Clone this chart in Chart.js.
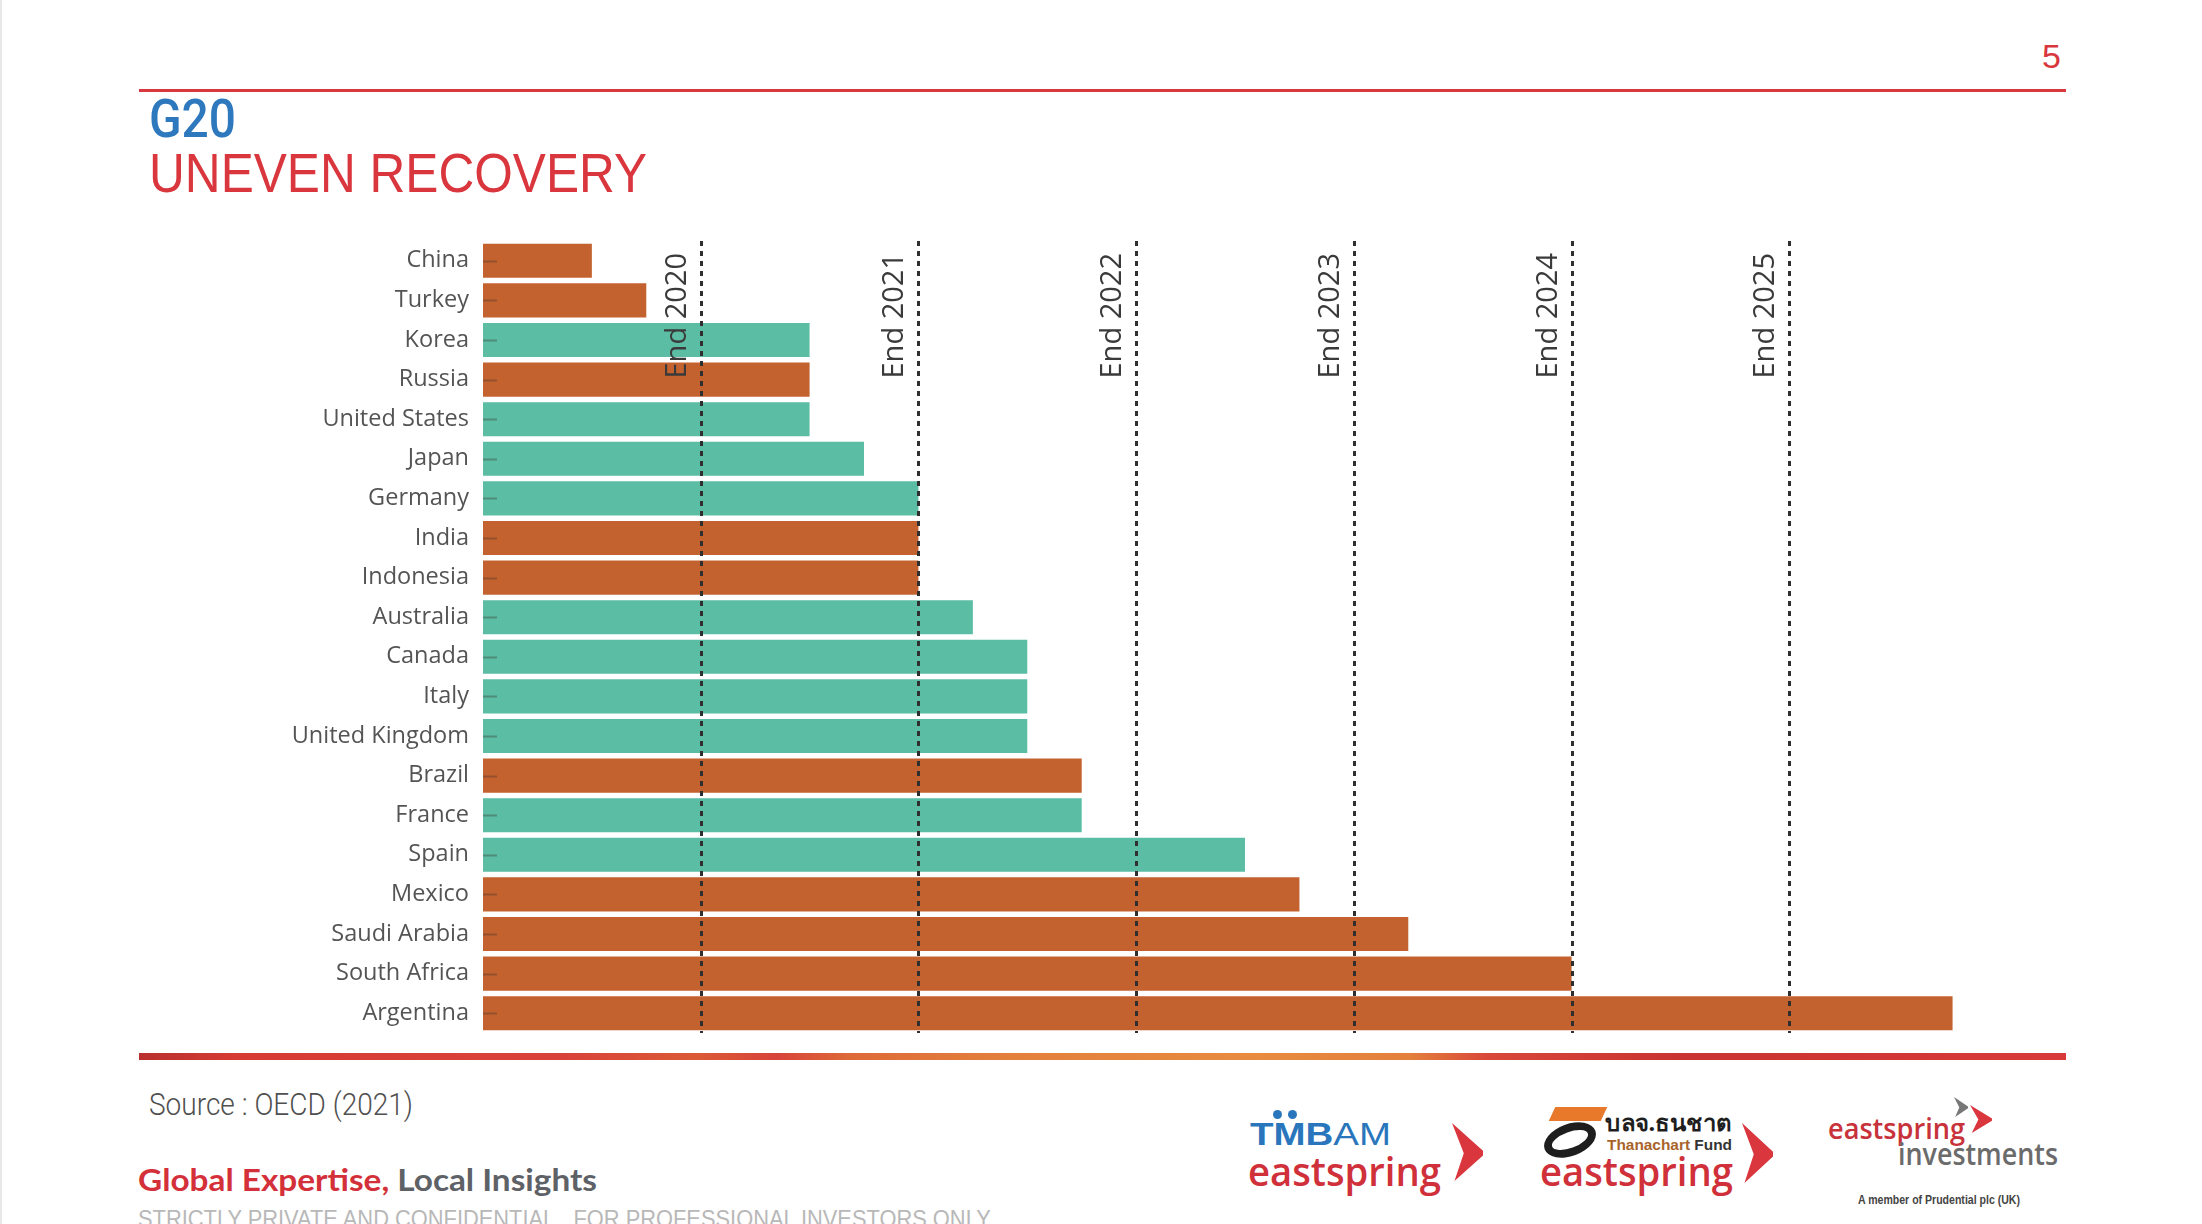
<!DOCTYPE html>
<html>
<head>
<meta charset="utf-8">
<script src="https://cdn.jsdelivr.net/npm/chart.js@4/dist/chart.umd.min.js"></script>
<style>
  html, body { margin: 0; padding: 0; }
  body { width: 2202px; height: 1224px; background: #fff; position: relative; overflow: hidden; font-family: 'Open Sans', sans-serif; }
  .abs { position: absolute; white-space: nowrap; line-height: 1; }
  .fit { transform-origin: 0 0; }
  .chev { position: absolute; clip-path: polygon(0 0, 100% 48%, 100% 56%, 8% 100%, 38% 52%); }
</style>
</head>
<body>
<div class="abs" style="left:0;top:0;width:2px;height:1224px;background:#e8e8e8"></div>

<!-- header -->
<div class="abs" style="left:2042px;top:37px;font:34px 'Liberation Sans';color:#d9363e">5</div>
<div class="abs" style="left:139px;top:89px;width:1927px;height:3px;background:#d9373f"></div>
<div class="abs fit" data-w="87" style="left:149px;top:88px;font:500 53px Roboto;color:#2e78be">G20</div>
<div class="abs fit" data-w="498" style="left:149px;top:140px;font:56px 'Liberation Sans';color:#d9363e">UNEVEN RECOVERY</div>

<!-- chart -->
<div style="position:absolute;left:0;top:231px;width:2020px;height:812px">
  <canvas id="chart" width="2020" height="812"></canvas>
</div>

<!-- footer -->
<div class="abs" style="left:139px;top:1053px;width:1927px;height:7px;background:linear-gradient(90deg,#b8302e 0%,#d63b33 5%,#d9423a 22%,#db5a36 29%,#d8433a 33%,#de6a38 37%,#e3803c 45%,#e88b40 58%,#e3803c 66%,#d9473a 70%,#c93331 80%,#d83a3a 100%)"></div>
<div class="abs fit" data-w="264" style="left:149px;top:1086px;font:300 31px Roboto;color:#505050">Source : OECD (2021)</div>
<div class="abs fit" data-w="459" style="left:138px;top:1161px;font:700 30px Lato;color:#5e6166"><span style="color:#d4303a">Global Expertise,</span> Local Insights</div>
<div class="abs fit" data-w="856" style="left:138px;top:1205px;font:24px 'Liberation Sans';color:#b8b8b8">STRICTLY PRIVATE AND CONFIDENTIAL.&nbsp; FOR PROFESSIONAL INVESTORS ONLY.</div>

<!-- logo 1 -->
<div class="abs" style="left:1273px;top:1110px;width:9px;height:9px;border-radius:50%;background:#2a76bc"></div>
<div class="abs" style="left:1288px;top:1110px;width:9px;height:9px;border-radius:50%;background:#2a76bc"></div>
<div class="abs fit" data-w="141" style="left:1250px;top:1117px;font:700 31px 'Liberation Sans';color:#2a76bc">TMB<span style="font-weight:400">AM</span></div>
<div class="abs fit" data-w="193" style="left:1248px;top:1143px;font:600 40px 'Open Sans';color:#d0303a">eastspring</div>
<div class="chev" style="left:1452px;top:1123px;width:31px;height:58px;background:#d9363e"></div>

<!-- logo 2 -->
<div class="abs" style="left:1552px;top:1107px;width:52px;height:14px;background:#e8782a;transform:skewX(-25deg)"></div>
<div class="abs" style="left:1543px;top:1124px;width:38px;height:16px;border:8px solid #1e1e1e;border-radius:50%;transform:rotate(-20deg)"></div>
<div class="abs fit" data-w="127" style="left:1605px;top:1105px;font:700 23px 'Noto Sans', 'DejaVu Sans', sans-serif;color:#1e1e1e">บลจ.ธนชาต</div>
<div class="abs fit" data-w="125" style="left:1607px;top:1136px;font:700 15px 'Liberation Sans';color:#333"><span style="color:#a8642a">Thanachart</span> Fund</div>
<div class="abs fit" data-w="193" style="left:1540px;top:1143px;font:600 40px 'Open Sans';color:#d0303a">eastspring</div>
<div class="chev" style="left:1742px;top:1123px;width:31px;height:60px;background:#d9363e"></div>

<!-- logo 3 -->
<div class="chev" style="left:1954px;top:1097px;width:14px;height:20px;background:#777"></div>
<div class="chev" style="left:1970px;top:1105px;width:22px;height:28px;background:#d9363e"></div>
<div class="abs fit" data-w="137" style="left:1828px;top:1109px;font:600 28px 'Open Sans';color:#c8323a">eastspring</div>
<div class="abs fit" data-w="160" style="left:1898px;top:1133px;font:600 30px 'Open Sans';color:#6b6b6b">investments</div>
<div class="abs fit" data-w="162" style="left:1858px;top:1192px;font:700 13px 'Liberation Sans';color:#444">A member of Prudential plc (UK)</div>

<script>
// data: quarters needed to get back to end-2019 level
const countries = ['China', 'Turkey', 'Korea', 'Russia', 'United States', 'Japan', 'Germany', 'India',
    'Indonesia', 'Australia', 'Canada', 'Italy', 'United Kingdom', 'Brazil', 'France', 'Spain',
    'Mexico', 'Saudi Arabia', 'South Africa', 'Argentina'];
const quarters = [2, 3, 6, 6, 6, 7, 8, 8, 8, 9, 10, 10, 10, 11, 11, 14, 15, 17, 20, 27];
const groups = ['em', 'em', 'adv', 'em', 'adv', 'adv', 'adv', 'em', 'em', 'adv', 'adv', 'adv', 'adv',
    'em', 'adv', 'adv', 'em', 'em', 'em', 'em'];
const markerLabels = ['End 2020', 'End 2021', 'End 2022', 'End 2023', 'End 2024', 'End 2025'];
const markerQuarters = [4, 8, 12, 16, 20, 24];

const groupColors = { em: '#c4622f', adv: '#5bbda4' };

// fit header/footer texts to their measured widths
document.querySelectorAll('.fit').forEach(el => {
    const w = el.getBoundingClientRect().width;
    const target = Number(el.dataset.w);
    if (w > 0) el.style.transform = `scaleX(${target / w})`;
});

const markers = {
    id: 'markers',
    afterDatasetsDraw(chart) {
        const { ctx, chartArea, scales: { x, y } } = chart;
        ctx.save();

        // little tick marks at the bar base
        ctx.strokeStyle = 'rgba(60,45,40,0.35)';
        ctx.lineWidth = 2;
        countries.forEach((c, i) => {
            const py = Math.round(y.getPixelForValue(i)) + 0.5;
            ctx.beginPath();
            ctx.moveTo(chartArea.left, py);
            ctx.lineTo(chartArea.left + 14, py);
            ctx.stroke();
        });

        // dotted year lines + rotated labels
        ctx.setLineDash([5, 5]);
        ctx.lineWidth = 3;
        ctx.strokeStyle = '#2f2f2f';
        ctx.fillStyle = '#3a3a3a';
        ctx.font = "29px 'Open Sans'";
        markerQuarters.forEach((q, i) => {
            const px = Math.round(x.getPixelForValue(q)) + 0.5;
            ctx.beginPath();
            ctx.moveTo(px, chartArea.top);
            ctx.lineTo(px, chartArea.bottom);
            ctx.stroke();

            ctx.save();
            ctx.translate(px - 16, chartArea.top + 12);
            ctx.rotate(-Math.PI / 2);
            ctx.textAlign = 'right';
            ctx.textBaseline = 'alphabetic';
            ctx.fillText(markerLabels[i], 0, 0);
            ctx.restore();
        });
        ctx.restore();
    }
};

Chart.defaults.font.family = "'Open Sans'";

new Chart(document.getElementById('chart').getContext('2d'), {
    type: 'bar',
    data: {
        labels: countries,
        datasets: [{
            data: quarters,
            backgroundColor: groups.map(g => groupColors[g]),
            borderWidth: 0,
            barPercentage: 0.86,
            categoryPercentage: 1
        }]
    },
    options: {
        indexAxis: 'y',
        responsive: false,
        animation: false,
        layout: { padding: { top: 10, bottom: 10, left: 0, right: 13 } },
        plugins: { legend: { display: false }, tooltip: { enabled: false } },
        scales: {
            x: { display: false, min: 0, max: 28 },
            y: {
                grid: { display: false, drawTicks: false },
                border: { display: false },
                ticks: { autoSkip: false, padding: 14, color: '#545454', font: { size: 23.5 } },
                afterFit: (scale) => {
                    scale.width = 483;
                    scale.paddingTop = 0;
                    scale.paddingBottom = 0;
                }
            }
        }
    },
    plugins: [markers]
});
</script>
</body>
</html>
